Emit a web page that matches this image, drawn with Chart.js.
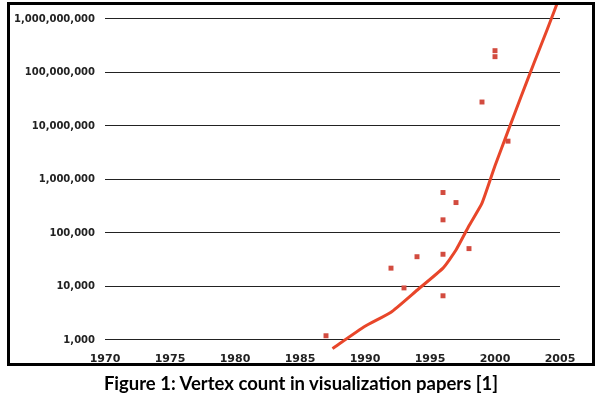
<!DOCTYPE html>
<html>
<head>
<meta charset="utf-8">
<script src="https://cdn.jsdelivr.net/npm/chart.js@4/dist/chart.umd.min.js"></script>
<style>
  body { margin: 0; background: #fff; }
  #wrap { position: relative; width: 602px; height: 396px; }
  #chart { position: absolute; left: 0; top: 0; }
  #caption {
    position: absolute; left: 0; top: 372px; width: 602px;
    text-align: center; font: bold 18.5px Lato, "Open Sans", sans-serif; color: #000;
  }
</style>
</head>
<body>
<div id="wrap">
  <canvas id="chart" width="602" height="396"></canvas>
  <div id="caption">Figure 1: Vertex count in visualization papers [1]</div>
</div>
<script>
// measured papers (scatter)
const paperYears = [1987, 1992, 1993, 1994, 1996, 1996, 1996, 1996, 1997, 1998, 1999, 2000, 2000, 2001];
const paperVertices = [1200, 22000, 9400, 36000, 570000, 176000, 40000, 6700, 370000, 51000, 28000000, 255000000, 197000000, 5200000];

// trend line
const trendYears = [1987.5, 1990, 1992, 1994, 1996, 1997, 1998, 1999, 2000, 2001, 2002, 2003, 2004, 2005];
const trendVertices = [690, 1800, 3300, 8500, 22000, 48000, 136000, 360000, 1800000, 8000000, 35000000, 150000000, 620000000, 2700000000];

const yTicks = [1e3, 1e4, 1e5, 1e6, 1e7, 1e8, 1e9];
const xTicks = [1970, 1975, 1980, 1985, 1990, 1995, 2000, 2005];

// black frame round the plot
const framePlugin = {
    id: 'frame',
    afterDraw(chart) {
        const ctx = chart.ctx;
        ctx.save();
        ctx.strokeStyle = '#000';
        ctx.lineWidth = 3;
        ctx.strokeRect(8.5, 3.5, 585, 361);
        ctx.restore();
    }
};

const ctx = document.getElementById('chart').getContext('2d');
new Chart(ctx, {
    type: 'scatter',
    data: {
        datasets: [{
            type: 'line',
            data: trendYears.map((x, i) => ({ x: x, y: trendVertices[i] })),
            borderColor: '#e8462a',
            borderWidth: 3,
            pointRadius: 0,
            tension: 0.15,
            fill: false
        }, {
            data: paperYears.map((x, i) => ({ x: x, y: paperVertices[i] })),
            backgroundColor: '#d24b3f',
            borderWidth: 0,
            pointStyle: 'rect',
            pointRadius: 3.5
        }]
    },
    options: {
        responsive: false,
        animation: false,
        layout: { padding: { left: 0, right: 42, top: 4, bottom: 26 } },
        plugins: {
            legend: { display: false },
            tooltip: { enabled: false }
        },
        scales: {
            x: {
                type: 'linear',
                min: 1970,
                max: 2005,
                grid: { display: false, drawTicks: false },
                border: { display: false },
                afterBuildTicks: scale => { scale.ticks = xTicks.map(v => ({ value: v })); },
                afterFit: scale => {
                    scale.height = 20;
                    scale.paddingLeft = 0;
                    scale.paddingRight = 0;
                },
                ticks: {
                    padding: 3,
                    color: '#222',
                    font: { family: "'DejaVu Sans'", size: 11, weight: 'bold' },
                    callback: v => String(v)
                }
            },
            y: {
                type: 'logarithmic',
                min: 650,
                max: 1.9e9,
                grid: { color: '#222', lineWidth: 1, drawTicks: false },
                border: { display: false },
                afterBuildTicks: scale => { scale.ticks = yTicks.map(v => ({ value: v })); },
                afterFit: scale => {
                    scale.width = 105;
                    scale.paddingTop = 0;
                    scale.paddingBottom = 0;
                },
                ticks: {
                    padding: 10,
                    color: '#222',
                    font: { family: "'DejaVu Sans'", size: 10, weight: 'bold' },
                    callback: v => v.toLocaleString('en-US')
                }
            }
        }
    },
    plugins: [framePlugin]
});
</script>
</body>
</html>
